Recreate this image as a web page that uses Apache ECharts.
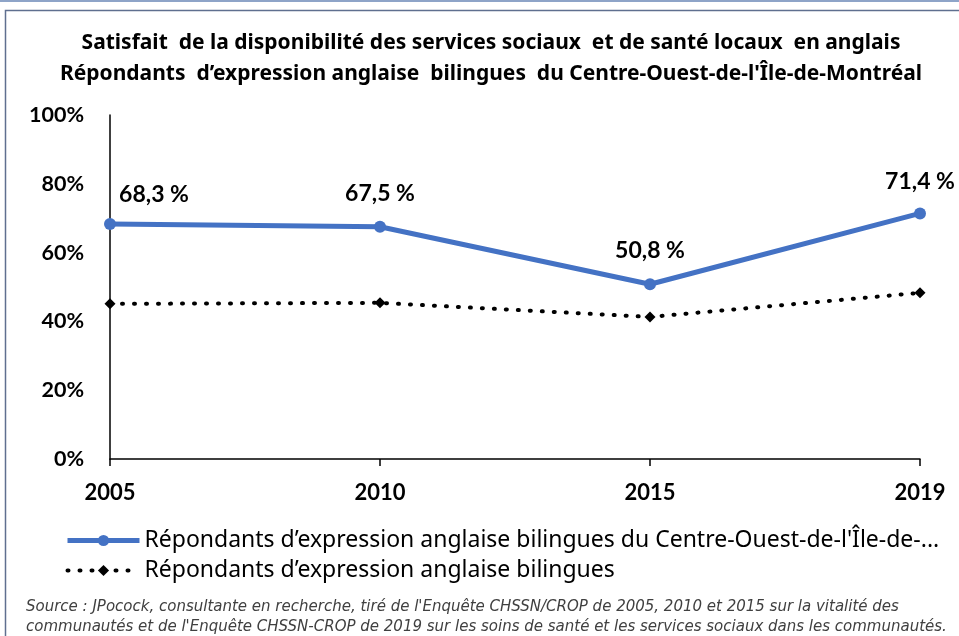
<!DOCTYPE html>
<html>
<head>
<meta charset="utf-8">
<script src="https://cdn.jsdelivr.net/npm/echarts@6/dist/echarts.min.js"></script>
<style>
  html, body { margin: 0; padding: 0; background: #fff; }
  #chart { width: 959px; height: 636px; }
</style>
</head>
<body>
<div id="chart"></div>
<script>
var years = ['2005', '2010', '2015', '2019'];
var ouestData = [68.3, 67.5, 50.8, 71.4];
var bilingData = [45.1, 45.4, 41.3, 48.3];
var yTicks = [0, 20, 40, 60, 80, 100];
var ouestName = "Répondants d\u2019expression anglaise bilingues du Centre-Ouest-de-l'Île-de-...";
var bilingName = "Répondants d\u2019expression anglaise bilingues";

var lato = "Lato, 'Noto Sans', sans-serif";
var noto = "'Noto Sans', 'Open Sans', sans-serif";

var chart = echarts.init(document.getElementById('chart'));

// per-label offsets so they sit like in the picture
var labelOffsets = [[44, 2], [0, -2], [0, -2], [0, 0]];

var option = {
    animation: false,
    textStyle: { fontFamily: lato },
    title: {
        text: 'Satisfait  de la disponibilité des services sociaux  et de santé locaux  en anglais\nRépondants  d\u2019expression anglaise  bilingues  du Centre-Ouest-de-l\'Île-de-Montréal',
        left: 486,
        textAlign: 'center',
        top: 23,
        textStyle: {
            fontFamily: noto,
            fontSize: 21,
            fontWeight: 'bold',
            color: '#000',
            lineHeight: 31
        }
    },
    legend: {
        orient: 'vertical',
        left: 65,
        top: 529,
        padding: 0,
        itemWidth: 72,
        itemHeight: 14,
        itemGap: 7,
        lineStyle: { width: 'inherit' },
        textStyle: { fontFamily: noto, fontSize: 23, color: '#000' },
        data: [ouestName, bilingName]
    },
    grid: { left: 110, right: 39, top: 115, bottom: 177 },
    xAxis: {
        type: 'category',
        data: years,
        boundaryGap: false,
        axisLine: { lineStyle: { color: '#000', width: 1.5 } },
        axisTick: { show: true, length: 7, lineStyle: { color: '#000', width: 1.5 } },
        axisLabel: {
            margin: 23,
            fontFamily: lato,
            fontSize: 22,
            fontWeight: 'bold',
            color: '#000'
        },
        splitLine: { show: false }
    },
    yAxis: {
        type: 'value',
        min: 0,
        max: 100,
        interval: 20,
        axisLine: { show: true, lineStyle: { color: '#000', width: 1.5 } },
        axisTick: { show: false },
        splitLine: { show: false },
        axisLabel: {
            margin: 26,
            fontFamily: lato,
            fontSize: 21.5,
            fontWeight: 'bold',
            color: '#000',
            formatter: function (v) {
                return yTicks.indexOf(v) >= 0 ? v + '%' : '';
            }
        }
    },
    series: [
        {
            name: ouestName,
            type: 'line',
            data: ouestData.map(function (v, i) {
                return {
                    value: v,
                    label: { offset: labelOffsets[i] }
                };
            }),
            symbol: 'circle',
            symbolSize: 12,
            lineStyle: { color: '#4472C4', width: 5 },
            itemStyle: { color: '#4472C4' },
            z: 3,
            label: {
                show: true,
                position: 'top',
                distance: 14,
                fontFamily: lato,
                fontSize: 23,
                fontWeight: 'bold',
                color: '#000',
                formatter: function (p) {
                    return p.value.toFixed(1).replace('.', ',') + ' %';
                }
            }
        },
        {
            name: bilingName,
            type: 'line',
            data: bilingData,
            symbol: 'diamond',
            symbolSize: 11,
            lineStyle: { color: '#000', width: 4, type: [1, 11], cap: 'round' },
            itemStyle: { color: '#000' },
            z: 2
        }
    ],
    graphic: [
        {
            type: 'rect',
            shape: { x: 0, y: 0, width: 959, height: 2 },
            style: { fill: '#8EA4C8' },
            silent: true
        },
        {
            type: 'rect',
            shape: { x: 5.5, y: 10.5, width: 970, height: 640 },
            style: { fill: 'none', stroke: '#5f6f8f', lineWidth: 1.5 },
            silent: true
        },
        {
            type: 'text',
            left: 26,
            top: 597,
            style: {
                text: "Source : JPocock, consultante en recherche, tiré de l'Enquête CHSSN/CROP de 2005, 2010 et 2015 sur la vitalité des\ncommunautés et de l'Enquête CHSSN-CROP de 2019 sur les soins de santé et les services sociaux dans les communautés.",
                font: 'italic 15px "DejaVu Sans", sans-serif',
                fill: '#404040',
                lineHeight: 20
            }
        }
    ]
};

chart.setOption(option);
</script>
</body>
</html>
